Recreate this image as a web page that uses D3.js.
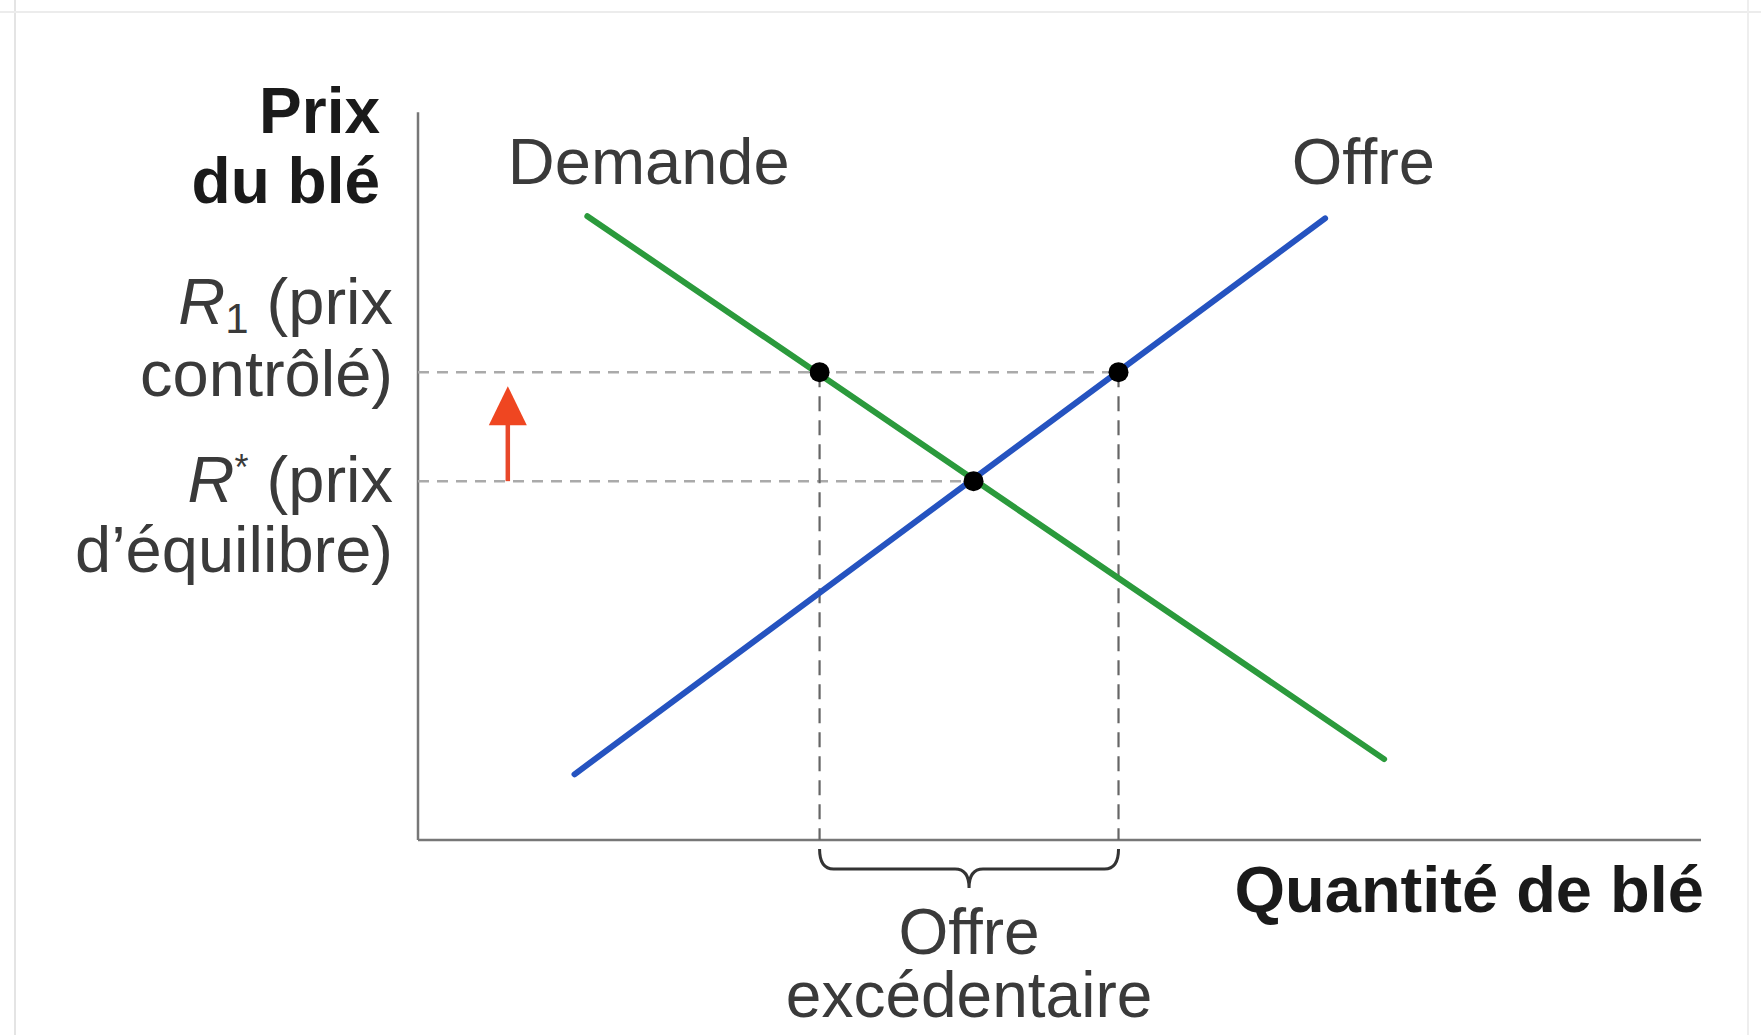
<!DOCTYPE html>
<html><head><meta charset="utf-8">
<script src="https://cdn.jsdelivr.net/npm/d3@7"></script>
<style>
html,body{margin:0;padding:0;background:#fff;}
svg{display:block;font-family:"Liberation Sans",Arial,Helvetica,sans-serif;}
</style></head>
<body>
<script>
// ---- data (abstract units 0..100) ----
const demand = [{q:13.2,p:86.4},{q:75.3,p:11.2}];
const supply = [{q:12.2,p:9.1},{q:70.7,p:86.1}];
const prices = [{name:"R1",p:64.8},{name:"Rstar",p:49.7}];
const points = [{q:31.3,p:64.8},{q:54.6,p:64.8},{q:43.3,p:49.7}];
const excess = [31.3,54.6];
const curveLabels = [{text:"Demande",q:7.0,p:90.8},{text:"Offre",q:68.1,p:90.8}];

const W=1761,H=1035;
const x = d3.scaleLinear().domain([0,100]).range([418,1701]);
const y = d3.scaleLinear().domain([0,100]).range([840,118]);

const svg = d3.select("body").append("svg").attr("width",W).attr("height",H);
// faint frame of the scanned figure
svg.append("line").attr("x1",15).attr("x2",15).attr("y1",0).attr("y2",H).attr("stroke","#e4e4e4").attr("stroke-width",2);
svg.append("line").attr("x1",0).attr("x2",W).attr("y1",12).attr("y2",12).attr("stroke","#ececec").attr("stroke-width",2);
svg.append("line").attr("x1",1748).attr("x2",1748).attr("y1",0).attr("y2",H).attr("stroke","#eeeeee").attr("stroke-width",2);

// axes
svg.append("line").attr("x1",x(0)).attr("x2",x(0)).attr("y1",y(100.8)).attr("y2",y(0)).attr("stroke","#777").attr("stroke-width",2.5);
svg.append("line").attr("x1",x(0)).attr("x2",x(100)).attr("y1",y(0)).attr("y2",y(0)).attr("stroke","#777").attr("stroke-width",2.5);

// horizontal dashed price lines
const rightmost = p => d3.max(points.filter(d=>d.p===p),d=>d.q);
svg.selectAll(".hd").data(prices).enter().append("line")
  .attr("x1",x(0)).attr("x2",d=>x(rightmost(d.p))).attr("y1",d=>y(d.p)).attr("y2",d=>y(d.p))
  .attr("stroke","#aaa").attr("stroke-width",2.5).attr("stroke-dasharray","11,8");
// vertical dashed lines
svg.selectAll(".vd").data(excess).enter().append("line")
  .attr("x1",d=>x(d)).attr("x2",d=>x(d)).attr("y1",y(prices[0].p)).attr("y2",y(0))
  .attr("stroke","#666").attr("stroke-width",2.2).attr("stroke-dasharray","15,9");

// curves
const line = d3.line().x(d=>x(d.q)).y(d=>y(d.p));
svg.append("path").attr("d",line(demand)).attr("fill","none").attr("stroke","#2b9a3c").attr("stroke-width",6).attr("stroke-linecap","round");
svg.append("path").attr("d",line(supply)).attr("fill","none").attr("stroke","#2553c0").attr("stroke-width",6).attr("stroke-linecap","round");

// points
svg.selectAll(".pt").data(points).enter().append("circle")
  .attr("cx",d=>x(d.q)).attr("cy",d=>y(d.p)).attr("r",10).attr("fill","#000");

// red arrow
const ax = x(7.0), ay0 = y(prices[1].p), ay1 = y(prices[0].p)+14;
svg.append("line").attr("x1",ax).attr("x2",ax).attr("y1",ay0).attr("y2",ay1+30).attr("stroke","#e8482a").attr("stroke-width",4.5);
svg.append("path").attr("d",`M${ax},${ay1} L${ax-19},${ay1+39} L${ax+19},${ay1+39} Z`).attr("fill","#ef4621");

// brace
const bx1=x(excess[0]), bx2=x(excess[1]), bm=(bx1+bx2)/2, byt=849, byb=869, bytip=888, r=14;
svg.append("path").attr("d",
  `M${bx1},${byt} Q${bx1},${byb} ${bx1+r},${byb} L${bm-r},${byb} Q${bm},${byb} ${bm},${bytip} Q${bm},${byb} ${bm+r},${byb} L${bx2-r},${byb} Q${bx2},${byb} ${bx2},${byt}`)
  .attr("fill","none").attr("stroke","#333").attr("stroke-width",3);

// text
const fs=65;
function txt(t,xx,yy,anchor,bold,size){
  return svg.append("text").attr("x",xx).attr("y",yy).attr("text-anchor",anchor)
    .attr("font-size",size||fs).attr("font-weight",bold?"bold":"normal").attr("fill",bold?"#1a1a1a":"#3a3a3a").text(t);
}
txt("Prix",380,133,"end",true,64);
txt("du blé",380,203,"end",true,64);
// R1 label
const t1 = svg.append("text").attr("x",393).attr("y",324).attr("text-anchor","end").attr("font-size",fs).attr("fill","#3a3a3a");
t1.append("tspan").attr("font-style","italic").text("R");
t1.append("tspan").attr("font-size",42).attr("dy",9).text("1");
t1.append("tspan").attr("dy",-9).text(" (prix");
txt("contrôlé)",393,396,"end",false);
const t2 = svg.append("text").attr("x",393).attr("y",502).attr("text-anchor","end").attr("font-size",fs).attr("fill","#3a3a3a");
t2.append("tspan").attr("font-style","italic").text("R");
t2.append("tspan").attr("font-size",36).attr("dy",-22).text("*");
t2.append("tspan").attr("dy",22).text(" (prix");
txt("d’équilibre)",393,572,"end",false);

svg.selectAll(".cl").data(curveLabels).enter().append("text")
  .attr("x",d=>x(d.q)).attr("y",d=>y(d.p)).attr("font-size",fs).attr("fill","#3a3a3a").text(d=>d.text);

txt("Quantité de blé",1704,912,"end",true,65);
txt("Offre",bm,954,"middle",false,64);
txt("excédentaire",bm,1017,"middle",false,64);
</script>
</body></html>
